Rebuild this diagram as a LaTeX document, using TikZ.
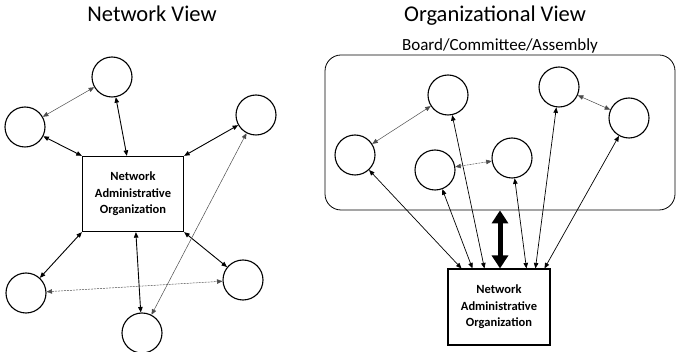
\documentclass[tikz,border=0pt]{standalone}
\usepackage{fontspec}
\setmainfont{Carlito}
\usetikzlibrary{arrows.meta, calc}

\begin{document}
\begin{tikzpicture}[x=1pt,y=-1pt,>={Triangle[length=5.5pt,width=4.5pt]}]
    \tikzstyle{member}=[circle, draw=black, line width=1.1pt, minimum size=40pt, inner sep=0pt]
    \tikzstyle{nao}=[draw=black, line width=1.3pt, minimum width=101pt, minimum height=75pt, align=center, font=\bfseries\fontsize{12.5}{16.5}\selectfont]
    \tikzstyle{link}=[<->, line width=0.9pt]
    \tikzstyle{weak link}=[<->, line width=0.5pt, draw=black!70]
    \tikzstyle{title}=[anchor=base, font=\fontsize{22.5}{26}\selectfont]

    \useasboundingbox (0,0) rectangle (677,352);

%   network view
    \node[title] (net-title) at (152,22) {Network View};
    \node[nao] (N) at (133,194) {Network\\Administrative\\Organization};
    \node[member] (A) at (112,77) {};
    \node[member] (B) at (25,127) {};
    \node[member] (C) at (256,115) {};
    \node[member] (D) at (26,293) {};
    \node[member] (E) at (243,280) {};
    \node[member] (F) at (142,333) {};

    \draw[link] (A) -- ($(N.north west)+(45,0)$);
    \draw[link] (B) -- (N.north west);
    \draw[link] (C) -- (N.north east);
    \draw[link] (D) -- (N.south west);
    \draw[link] (E) -- (N.south east);
    \draw[link] (F) -- ($(N.south west)+(54,0)$);
    \draw[weak link] (A) -- (B);
    \draw[weak link] (F) -- (C);
    \draw[weak link, dashed, dash pattern=on 2pt off 1pt] (D) -- (E);

%   organizational view
    \node[title] (org-title) at (495,22) {Organizational View};
    \node[draw=black, line width=0.8pt, rounded corners=16pt, minimum width=350pt, minimum height=155pt] (board) at (500,132.5) {};
    \node[anchor=south, font=\fontsize{17}{19}\selectfont, inner sep=1pt] (board-label) at (board.north) {Board/Committee/Assembly};
    \node[member] (G) at (355,155) {};
    \node[member] (H) at (448,95) {};
    \node[member] (I) at (435,170) {};
    \node[member] (J) at (512,158) {};
    \node[member] (K) at (559,87) {};
    \node[member] (L) at (629,118) {};
    \node[nao, line width=1.1pt, minimum width=102pt, minimum height=76pt] (O) at (499,307) {Network\\Administrative\\Organization};

    \foreach \c/\d in {G/14, I/25, H/37, J/79, K/88, L/97}
        \draw[link, line width=0.7pt] (\c) -- ($(O.north west)+(\d,0)$);
    \draw[weak link] (G) -- (H);
    \draw[weak link] (K) -- (L);
    \draw[weak link, dashed, dash pattern=on 2pt off 1pt] (I) -- (J);
    \draw[line width=5pt, {Triangle[length=13pt,width=16pt]}-{Triangle[length=13pt,width=16pt]}]
        (board.south) -- (board.south |- O.north);
\end{tikzpicture}
\end{document}
